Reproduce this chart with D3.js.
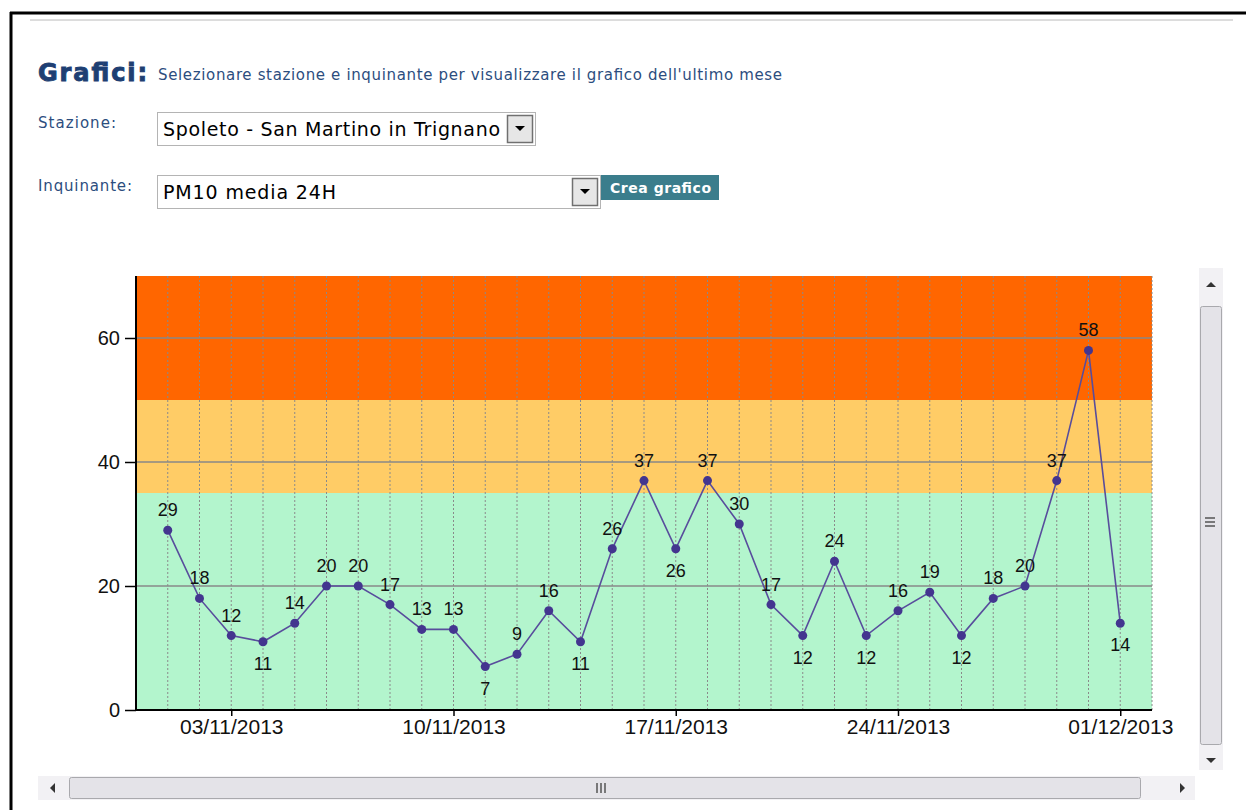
<!DOCTYPE html>
<html>
<head>
<meta charset="utf-8">
<script src="https://cdn.jsdelivr.net/npm/d3@7"></script>
<style>
  body { margin: 0; background: #fff; }
  svg text { font-family: "Liberation Sans", Arial, sans-serif; }
  svg text.form { font-family: "DejaVu Sans", Verdana, sans-serif; }
</style>
</head>
<body>
<svg id="drawing_region"></svg>
<script>
// PM10 media 24H - Spoleto, San Martino in Trignano
const days = [
    "01/11/2013","02/11/2013","03/11/2013","04/11/2013","05/11/2013","06/11/2013","07/11/2013",
    "08/11/2013","09/11/2013","10/11/2013","11/11/2013","12/11/2013","13/11/2013","14/11/2013",
    "15/11/2013","16/11/2013","17/11/2013","18/11/2013","19/11/2013","20/11/2013","21/11/2013",
    "22/11/2013","23/11/2013","24/11/2013","25/11/2013","26/11/2013","27/11/2013","28/11/2013",
    "29/11/2013","30/11/2013","01/12/2013"
];
const pm10 = [29,18,12,11,14,20,20,17,13,13,7,9,16,11,26,37,26,37,30,17,12,24,12,16,19,12,18,20,37,58,14];
const xTicks = ["03/11/2013","10/11/2013","17/11/2013","24/11/2013","01/12/2013"];
const yTicks = [0,20,40,60];
const bands = [
    {from: 0,  to: 35, color: "#b3f5cd"},
    {from: 35, to: 50, color: "#ffcc66"},
    {from: 50, to: 70, color: "#ff6600"}
];

const parse = d3.timeParse("%d/%m/%Y");

const W = 1246, H = 810;
const svg = d3.select("#drawing_region").attr("width", W).attr("height", H);

// page frame
svg.append("rect").attr("x", 0).attr("y", 0).attr("width", W).attr("height", H).attr("fill", "#fff");
svg.append("line").attr("x1", 10).attr("x2", W).attr("y1", 13).attr("y2", 13)
    .attr("stroke", "#000").attr("stroke-width", 3);
svg.append("line").attr("x1", 11).attr("x2", 11).attr("y1", 12).attr("y2", H)
    .attr("stroke", "#000").attr("stroke-width", 3);
svg.append("line").attr("x1", 30).attr("x2", 1233).attr("y1", 20).attr("y2", 20)
    .attr("stroke", "#dcdcdc").attr("stroke-width", 2);

// header
svg.append("text").attr("class", "form").attr("x", 38).attr("y", 81)
    .style("font-weight", "bold").style("font-size", "24px").attr("fill", "#1e3f73")
    .attr("stroke", "#1e3f73").attr("stroke-width", 0.9)
    .attr("textLength", 109)
    .text("Grafici:");
svg.append("text").attr("class", "form").attr("x", 158).attr("y", 80)
    .style("font-size", "15px").attr("fill", "#2c4d7e").attr("textLength", 624)
    .text("Selezionare stazione e inquinante per visualizzare il grafico dell'ultimo mese");

// form controls
function selectBox(x, y, w, h, label, labelLen, value, valueLen) {
    svg.append("text").attr("class", "form").attr("x", 38).attr("y", y + 16)
        .style("font-size", "15px").attr("fill", "#2c4d7e").attr("textLength", labelLen).text(label);
    svg.append("rect").attr("x", x + 0.5).attr("y", y + 0.5).attr("width", w).attr("height", h)
        .attr("fill", "#fff").attr("stroke", "#b4b4b4");
    svg.append("text").attr("class", "form").attr("x", x + 6).attr("y", y + 24)
        .style("font-size", "19px").attr("fill", "#000").attr("textLength", valueLen).text(value);
    const bx = x + w - 28;
    svg.append("rect").attr("x", bx + 0.5).attr("y", y + 3.5).attr("width", 25).attr("height", h - 6)
        .attr("fill", "#e6e6e6").attr("stroke", "#707070").attr("stroke-width", 1.5);
    svg.append("path")
        .attr("d", `M${bx + 8},${y + 14} L${bx + 18},${y + 14} L${bx + 13},${y + 19} Z`)
        .attr("fill", "#000");
}
selectBox(157, 112, 378, 33, "Stazione:", 78, "Spoleto - San Martino in Trignano", 337);
selectBox(157, 175, 443, 33, "Inquinante:", 94, "PM10 media 24H", 173);
svg.append("rect").attr("x", 601).attr("y", 175).attr("width", 118).attr("height", 25).attr("fill", "#3b7d8c");
svg.append("text").attr("class", "form").attr("x", 610).attr("y", 193)
    .style("font-size", "14px").style("font-weight", "bold").attr("fill", "#fff")
    .attr("textLength", 101).text("Crea grafico");

// chart
const margin = {top: 276, left: 136};
const inner_width = 1016, inner_height = 434;
const chart = svg.append("g").attr("transform", `translate(${margin.left}, ${margin.top})`);

const xscale = d3.scaleTime()
    .domain([d3.timeDay.offset(parse(days[0]), -1), d3.timeDay.offset(parse(days[days.length - 1]), 1)])
    .range([0, inner_width]);
const yscale = d3.scaleLinear().domain([0, 70]).range([inner_height, 0]);

chart.selectAll(".band").data(bands).enter().append("rect")
    .attr("x", 0).attr("width", inner_width)
    .attr("y", d => yscale(d.to)).attr("height", d => yscale(d.from) - yscale(d.to))
    .attr("fill", d => d.color);

// vertical dotted grid, one per day + right edge
const gridDays = days.map(parse).concat([xscale.domain()[1]]);
chart.selectAll(".vgrid").data(gridDays).enter().append("line")
    .attr("x1", d => xscale(d)).attr("x2", d => xscale(d))
    .attr("y1", 0).attr("y2", inner_height)
    .attr("stroke", "#8a8a8a").attr("stroke-width", 1).attr("stroke-dasharray", "2,2");

// horizontal grid
chart.selectAll(".hgrid").data(yTicks.filter(d => d > 0)).enter().append("line")
    .attr("x1", 0).attr("x2", inner_width)
    .attr("y1", d => yscale(d)).attr("y2", d => yscale(d))
    .attr("stroke", "#888").attr("stroke-width", 1.5);

// axes
const yaxis = d3.axisLeft(yscale).tickValues(yTicks).tickSize(11).tickPadding(5);
const yaxis_group = chart.append("g").call(yaxis);
const xaxis = d3.axisBottom(xscale).tickValues(xTicks.map(parse)).tickSize(6).tickPadding(3)
    .tickFormat(d3.timeFormat("%d/%m/%Y"));
const xaxis_group = chart.append("g").attr("transform", `translate(0, ${inner_height})`).call(xaxis);

[yaxis_group, xaxis_group].forEach(g => {
    g.select(".domain").remove();
    g.selectAll(".tick line").attr("stroke", "#000").attr("stroke-width", 1.5);
    g.selectAll(".tick text").attr("fill", "#111");
});
yaxis_group.selectAll(".tick text").style("font-size", "20px");
xaxis_group.selectAll(".tick text").style("font-size", "21px");
chart.append("line").attr("x1", 0).attr("x2", 0).attr("y1", 0).attr("y2", inner_height + 1)
    .attr("stroke", "#000").attr("stroke-width", 2);
chart.append("line").attr("x1", 0).attr("x2", inner_width).attr("y1", inner_height).attr("y2", inner_height)
    .attr("stroke", "#000").attr("stroke-width", 2);

// series
const data = days.map((d, i) => ({date: parse(d), value: pm10[i]}));
const line = d3.line().x(d => xscale(d.date)).y(d => yscale(d.value));
chart.append("path").datum(data).attr("d", line)
    .attr("fill", "none").attr("stroke", "#584d9c").attr("stroke-width", 1.6);
chart.selectAll(".pt").data(data).enter().append("circle")
    .attr("cx", d => xscale(d.date)).attr("cy", d => yscale(d.value)).attr("r", 4.5)
    .attr("fill", "#43358f");

// labels: below the point at local minima, above otherwise
const below = (i) => {
    const prev = i > 0 ? pm10[i - 1] : Infinity;
    const next = i < pm10.length - 1 ? pm10[i + 1] : Infinity;
    return pm10[i] < prev && pm10[i] < next;
};
chart.selectAll(".lbl").data(data).enter().append("text")
    .attr("x", d => xscale(d.date))
    .attr("y", (d, i) => yscale(d.value) + (below(i) ? 28 : -14))
    .attr("text-anchor", "middle")
    .style("font-size", "18px").attr("fill", "#111")
    .text(d => d.value);

// scrollbars
const sb = svg.append("g");
sb.append("rect").attr("x", 1199).attr("y", 268).attr("width", 24).attr("height", 502).attr("fill", "#f2f1f4");
sb.append("rect").attr("x", 1200.5).attr("y", 306.5).attr("width", 21).attr("height", 438).attr("rx", 2)
    .attr("fill", "#e4e3e8").attr("stroke", "#a9a9ad");
sb.append("path").attr("d", "M1206,287 L1216,287 L1211,282 Z").attr("fill", "#333");
sb.append("path").attr("d", "M1206,758 L1216,758 L1211,763 Z").attr("fill", "#333");
[0, 4, 8].forEach(o => sb.append("line").attr("x1", 1205).attr("x2", 1215)
    .attr("y1", 518 + o).attr("y2", 518 + o).attr("stroke", "#555").attr("stroke-width", 1.5));

sb.append("rect").attr("x", 38).attr("y", 776).attr("width", 1157).attr("height", 24).attr("fill", "#f2f1f4");
sb.append("rect").attr("x", 69.5).attr("y", 777.5).attr("width", 1071).attr("height", 21).attr("rx", 2)
    .attr("fill", "#e4e3e8").attr("stroke", "#a9a9ad");
sb.append("path").attr("d", "M55,783 L55,793 L50,788 Z").attr("fill", "#333");
sb.append("path").attr("d", "M1180,783 L1180,793 L1185,788 Z").attr("fill", "#333");
[0, 4, 8].forEach(o => sb.append("line").attr("x1", 597 + o).attr("x2", 597 + o)
    .attr("y1", 783).attr("y2", 793).attr("stroke", "#555").attr("stroke-width", 1.5));
</script>
</body>
</html>
